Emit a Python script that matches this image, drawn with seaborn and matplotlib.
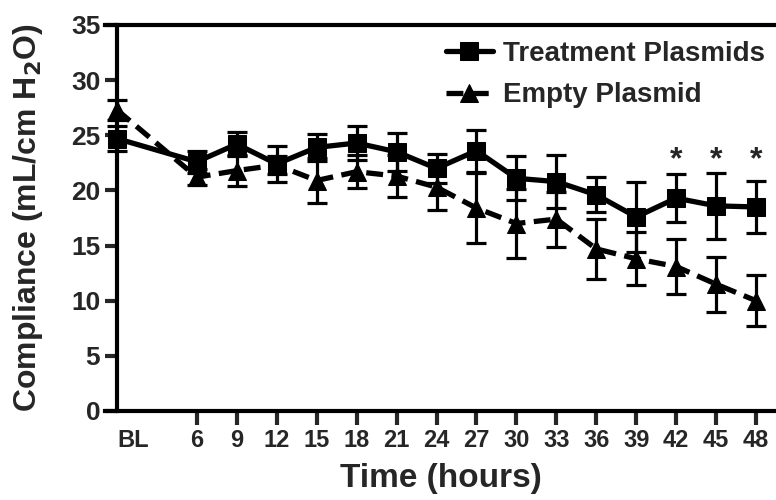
import numpy as np
import pandas as pd
import seaborn as sns
import matplotlib.pyplot as plt

# values
time_h = [0, 6, 9, 12, 15, 18, 21, 24, 27, 30, 33, 36, 39, 42, 45, 48]
tick_hours = [6, 9, 12, 15, 18, 21, 24, 27, 30, 33, 36, 39, 42, 45, 48]
treat_mean = [24.7, 22.6, 24.2, 22.4, 23.9, 24.3, 23.5, 22.0, 23.6, 21.1, 20.8, 19.6, 17.6, 19.3, 18.6, 18.5]
treat_err = [1.1, 1.0, 1.1, 1.6, 1.2, 1.5, 1.7, 1.3, 1.9, 2.0, 2.4, 1.6, 3.2, 2.2, 3.0, 2.4]
empty_mean = [27.3, 21.2, 21.8, 22.3, 20.9, 21.7, 21.3, 20.3, 18.4, 17.0, 17.4, 14.7, 13.8, 13.1, 11.5, 10.0]
empty_err = [0.9, 0.7, 1.4, 0.8, 2.0, 1.5, 1.9, 2.1, 3.2, 3.1, 2.5, 2.7, 2.4, 2.5, 2.5, 2.3]
sig_times = [42, 45, 48]
sig_y = 22.7
groups = ["Treatment Plasmids", "Empty Plasmid"]

# long form table for seaborn
df = pd.DataFrame({
    "time": time_h * 2,
    "compliance": treat_mean + empty_mean,
    "err": treat_err + empty_err,
    "group": [groups[0]] * len(time_h) + [groups[1]] * len(time_h),
})

sns.set_style("ticks")
plt.rcParams["font.family"] = ["Liberation Sans", "DejaVu Sans"]
plt.rcParams["font.weight"] = "bold"

fig = plt.figure(figsize=(7.76, 5), dpi=100)
ax = fig.add_axes([0.1353, 0.178, 0.8647, 0.772])

# error bars first so the lines sit on top
for g in groups:
    d = df[df["group"] == g]
    ax.errorbar(d["time"], d["compliance"], yerr=d["err"], fmt="none",
                ecolor="black", elinewidth=2.3, capsize=7, capthick=2.3, zorder=2)

sns.lineplot(data=df, x="time", y="compliance", hue="group", style="group",
             hue_order=groups, style_order=groups,
             palette=["black", "black"], markers={groups[0]: "s", groups[1]: "^"},
             dashes={groups[0]: "", groups[1]: (3.2, 1.6)},
             markersize=12.5, markeredgecolor="black", linewidth=3.8,
             legend=False, ax=ax, zorder=3)

handles = ax.get_lines()[-2:]
ax.legend(handles, groups, loc="upper left", bbox_to_anchor=(0.508, 0.958),
          frameon=False, handlelength=1.7, handletextpad=0.36,
          labelspacing=0.55, borderpad=0, borderaxespad=0,
          prop={"weight": "bold", "size": 20})

for t in sig_times:
    ax.text(t, sig_y, "*", ha="center", va="center", fontsize=23, fontweight="bold")

ax.set_xlim(-0.9, 49.5)
ax.set_ylim(0, 35)
ax.set_yticks(np.arange(0, 36, 5))
ax.set_xticks(tick_hours)
ax.set_xticks([1.2], ["BL"], minor=True)
ax.tick_params(axis="x", which="minor", length=0, pad=13, labelsize=17)
ax.tick_params(axis="x", which="major", length=10, width=3, pad=3, labelsize=17)
ax.tick_params(axis="y", length=9, width=3, pad=3, labelsize=19)
for lab in ax.get_xticklabels(which="both") + ax.get_yticklabels():
    lab.set_fontweight("bold")

ax.spines["left"].set_position(("data", 0))
ax.spines["right"].set_visible(False)
for s in ["left", "bottom", "top"]:
    ax.spines[s].set_linewidth(3)
    ax.spines[s].set_color("black")

ax.set_xlabel("Time (hours)", fontsize=24, fontweight="bold", labelpad=8)
ax.set_ylabel("Compliance (mL/cm H$_\\mathbf{2}$O)", fontsize=23, fontweight="bold")
ax.yaxis.set_label_coords(-0.09, 0.5)

fig.savefig("out.png", dpi=100)
